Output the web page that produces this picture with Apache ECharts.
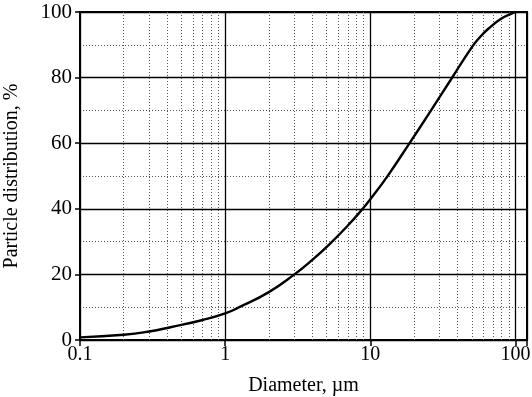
<!DOCTYPE html>
<html><head><meta charset="utf-8">
<script src="https://cdn.jsdelivr.net/npm/echarts@6/dist/echarts.min.js"></script>
<style>html,body{margin:0;padding:0;background:#fff}#c{width:532px;height:397px}</style>
</head><body><div id="c"></div>
<script>
const diameter = [0.1, 0.2, 0.3, 0.42, 0.7, 1, 1.25, 2, 3, 4, 5.2, 7, 8.7, 10, 13.1, 18.3, 26, 36, 50.5, 57, 65, 80, 94, 100];
const distribution = [0.8, 1.6, 2.6, 3.9, 6.1, 8.1, 10, 14.6, 20, 24.5, 29.1, 34.9, 39.6, 42.9, 49.9, 59.5, 69.8, 79.5, 89.5, 92.4, 94.9, 98.0, 99.5, 100];
const xMinorLines = [0.2,0.3,0.4,0.5,0.6,0.7,0.8,0.9,2,3,4,5,6,7,8,9,20,30,40,50,60,70,80,90];

const font = 'Liberation Serif';
const chart = echarts.init(document.getElementById('c'));
chart.setOption({
  animation: false,
  grid: { left: 80, right: 5, top: 12, bottom: 57, show: true, borderColor: '#000', borderWidth: 2,
          containLabel: false, outerBoundsMode: 'none' },
  xAxis: {
    type: 'log', logBase: 10, min: 0.1, max: 120,
    name: 'Diameter, µm', nameLocation: 'middle', nameGap: 36,
    nameTextStyle: { fontFamily: font, fontSize: 20, color: '#000' },
    axisLine: { lineStyle: { color: '#000', width: 2 } },
    axisTick: { show: true, length: 6, lineStyle: { color: '#000', width: 1.5 } },
    axisLabel: {
      fontFamily: font, fontSize: 20, color: '#000', margin: 5,
      formatter: v => {
        const l = Math.log10(v);
        return Math.abs(l - Math.round(l)) < 1e-6 ? String(+v.toPrecision(3)) : '';
      }
    },
    splitLine: { show: true, lineStyle: { color: '#000', width: 1.3 } }
  },
  yAxis: {
    type: 'value', min: 0, max: 100, interval: 20,
    name: 'Particle distribution, %', nameLocation: 'middle', nameGap: 58,
    nameTextStyle: { fontFamily: font, fontSize: 20, color: '#000' },
    axisLine: { show: true, lineStyle: { color: '#000', width: 2 } },
    axisTick: { show: true, length: 5, lineStyle: { color: '#000', width: 1.5 } },
    axisLabel: { fontFamily: font, fontSize: 21, color: '#000', margin: 8 },
    splitLine: { show: true, lineStyle: { color: '#000', width: 1.3 } },
    minorTick: { show: false, splitNumber: 2 },
    minorSplitLine: { show: true, lineStyle: { color: '#555', width: 1, type: [1, 2] } }
  },
  series: [{
    type: 'line',
    data: diameter.map((d, i) => [d, distribution[i]]),
    smooth: 0.5,
    symbol: 'none',
    lineStyle: { color: '#000', width: 2.4 },
    z: 5,
    markLine: {
      silent: true, symbol: 'none', label: { show: false },
      lineStyle: { color: '#555', width: 1, type: [1, 2] },
      data: xMinorLines.map(v => ({ xAxis: v }))
    }
  }]
});
</script></body></html>
